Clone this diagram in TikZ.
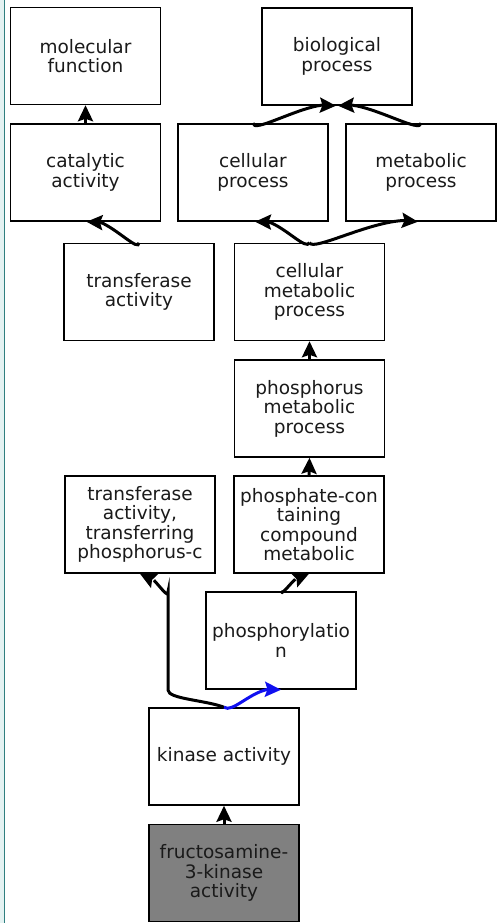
\documentclass[tikz,border=0pt]{standalone}
\usepackage{fontspec}
\setmainfont{DejaVu Sans}
\usetikzlibrary{arrows.meta,bending}
\definecolor{tealdark}{HTML}{2F7F7F}
\definecolor{teallight}{HTML}{E4F2F2}
\definecolor{txt}{HTML}{1A1A1A}
\definecolor{termgray}{HTML}{808080}
\definecolor{edgeblue}{HTML}{1010F0}
\tikzset{
  term/.style={draw=black, line width=1.5pt, fill=white, minimum width=150pt, minimum height=97pt,
    inner sep=0pt, align=center, text=txt, font=\fontsize{18.5}{19.5}\selectfont},
  tipbig/.style={-{Stealth[length=16pt,width=15pt,inset=2.5pt]}},
  rel/.style={line width=3pt, draw=black, tipbig},
  relblue/.style={line width=3pt, draw=edgeblue, tipbig},
}
\begin{document}
\begin{tikzpicture}[x=1pt,y=-1pt]
\useasboundingbox (0,0) rectangle (500,923);
\fill[white] (0,0) rectangle (500,923);
\fill[teallight] (0,0) rectangle (4,923);
\draw[tealdark, line width=1.6pt] (4.6,0) -- (4.6,923);

\node[term] (mf)   at (85.5,56)   {molecular\\function};
\node[term] (cat)  at (85.5,172.5) {catalytic\\activity};
\node[term] (bp)   at (337,56.5)  {biological\\process};
\node[term] (cp)   at (253,172.5) {cellular\\process};
\node[term] (mp)   at (421,172.5) {metabolic\\process};
\node[term] (ta)   at (139,292)   {transferase\\activity};
\node[term] (cmp)  at (309.5,292) {cellular\\metabolic\\process};
\node[term] (pmp)  at (309.5,408.5) {phosphorus\\metabolic\\process};
\node[term] (tatp) at (140,524.5) {transferase\\activity,\\transferring\\phosphorus-c};
\node[term] (pcc)  at (309,524.5) {phosphate-con\\taining\\compound\\metabolic};
\node[term] (phos) at (281,640.5) {phosphorylatio\\n};
\node[term] (ka)   at (224,756.5) {kinase activity};
\node[term, fill=termgray] (fr) at (224,873) {fructosamine-\\3-kinase\\activity};

\draw[rel] (cat.north) -- (mf.south);
\draw[rel] (ta.north) .. controls ([yshift=-12pt]ta.north) and ([xshift=16pt,yshift=10pt]cat.south) .. ([xshift=1pt]cat.south);
\draw[rel] (cp.north) .. controls ([yshift=-12pt]cp.north) and ([xshift=-24pt,yshift=8pt]bp.south) .. ([xshift=-1pt]bp.south);
\draw[rel] (mp.north) .. controls ([yshift=-12pt]mp.north) and ([xshift=24pt,yshift=8pt]bp.south) .. ([xshift=1pt]bp.south);
\draw[rel] (cmp.north) .. controls ([xshift=-4pt,yshift=-10pt]cmp.north) and ([xshift=20pt,yshift=9pt]cp.south) .. ([xshift=2pt]cp.south);
\draw[rel] (cmp.north) .. controls ([xshift=4pt,yshift=-10pt]cmp.north) and ([xshift=-36pt,yshift=9pt]mp.south) .. ([xshift=-3pt]mp.south);
\draw[rel] (pmp.north) -- (cmp.south);
\draw[rel] (pcc.north) -- (pmp.south);
\draw[rel] (phos.north) .. controls ([yshift=-8pt]phos.north) and ([xshift=-8pt,yshift=8pt]pcc.south) .. (pcc.south);
\coordinate (bend1) at (168,690);
\coordinate (bend2) at (168,592);
\draw[rel] (ka.north) .. controls (205,700) and (168,699) .. (bend1) -- (bend2) .. controls ([yshift=-10pt]bend2) and ([xshift=8pt,yshift=8pt]tatp.south) .. (tatp.south);
\draw[relblue] (ka.north) .. controls ([xshift=10pt,yshift=-7pt]ka.north) and ([xshift=-24pt,yshift=7pt]phos.south) .. (phos.south);
\draw[rel] (fr.north) -- (ka.south);
\end{tikzpicture}
\end{document}
